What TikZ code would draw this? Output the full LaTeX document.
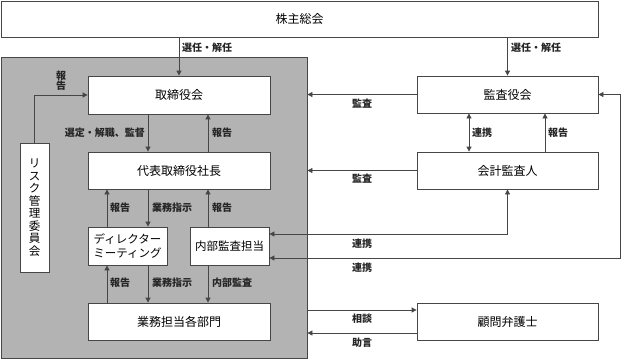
\documentclass[tikz,border=0pt]{standalone}
\usepackage{fontspec}
\setmainfont{Noto Sans CJK JP}
\usetikzlibrary{arrows.meta}
\definecolor{grayfill}{RGB}{179,179,179}
\definecolor{linec}{RGB}{70,70,70}
\tikzset{
  box/.style={draw=linec, line width=0.8pt, fill=white, inner sep=0pt, align=center, font=\fontsize{12}{14}\selectfont},
  arr/.style={draw=linec, line width=0.8pt, -{Triangle[length=5pt,width=5pt]}},
  darr/.style={draw=linec, line width=0.8pt, {Triangle[length=5pt,width=5pt]}-{Triangle[length=5pt,width=5pt]}},
  lbl/.style={inner sep=0pt, font=\fontsize{10}{10.5}\selectfont\bfseries, text=black!85}
}
\begin{document}
\begin{tikzpicture}[x=1pt,y=-1pt]
\useasboundingbox (0,0) rectangle (621,360);
% group
\node[draw=linec, line width=0.8pt, fill=grayfill, minimum width=306pt, minimum height=301pt, inner sep=0pt] (grp) at (154,207.5) {};
% boxes
\node[box, minimum width=597pt, minimum height=36pt] (soukai) at (299.5,19) {株主総会};
\node[box, minimum width=182pt, minimum height=38pt] (tori) at (179,95) {取締役会};
\node[box, minimum width=182pt, minimum height=37pt] (daihyo) at (179,170.5) {代表取締役社長};
\node[box, minimum width=79pt, minimum height=38pt, font=\fontsize{11.5}{14}\selectfont] (dir) at (127.5,246) {ディレクター\\ミーティング};
\node[box, minimum width=79pt, minimum height=38pt, font=\fontsize{11.5}{14}\selectfont] (naibu) at (229.5,246) {内部監査担当};
\node[box, minimum width=182pt, minimum height=37pt] (gyomu) at (179,321.5) {業務担当各部門};
\node[box, minimum width=29pt, minimum height=129pt, font=\fontsize{11.5}{12.5}\selectfont] (risk) at (34.5,207.5) {リ\\ス\\ク\\管\\理\\委\\員\\会};
\node[box, minimum width=181pt, minimum height=37pt] (kansa) at (507.5,94.5) {監査役会};
\node[box, minimum width=181pt, minimum height=37pt] (kaikei) at (507.5,170.5) {会計監査人};
\node[box, minimum width=181pt, minimum height=37pt] (bengo) at (507.5,321.5) {顧問弁護士};
\coordinate (rc) at (620,258);
% arrows
\draw[arr] (soukai.south -| tori.north) -- (tori.north);
\draw[arr] (soukai.south -| kansa.north) -- (kansa.north);
\draw[arr] (risk.north) |- (tori.west);
\draw[arr] (tori.south -| 148,0) -- (daihyo.north -| 148,0);
\draw[arr] (daihyo.north -| 208,0) -- (tori.south -| 208,0);
\draw[arr] (dir.north -| 107,0) -- (daihyo.south -| 107,0);
\draw[arr] (daihyo.south -| 148,0) -- (dir.north -| 148,0);
\draw[arr] (naibu.north -| 208,0) -- (daihyo.south -| 208,0);
\draw[arr] (gyomu.north -| 107,0) -- (dir.south -| 107,0);
\draw[arr] (dir.south -| 148,0) -- (gyomu.north -| 148,0);
\draw[arr] (naibu.south -| 208,0) -- (gyomu.north -| 208,0);
\draw[arr] (kansa.west) -- (grp.east |- kansa.west);
\draw[arr] (kaikei.west) -- (grp.east |- kaikei.west);
\draw[darr] (kansa.south -| 469,0) -- (kaikei.north -| 469,0);
\draw[arr] (kaikei.north -| 545,0) -- (kansa.south -| 545,0);
\draw[darr] (naibu.east |- 0,234) -| (kaikei.south);
\draw[darr] (naibu.east |- rc) -- (rc) |- (kansa.east);
\draw[arr] (grp.east |- 0,310) -- (bengo.west |- 0,310);
\draw[arr] (bengo.west |- 0,333) -- (grp.east |- 0,333);
% labels
\node[lbl, anchor=west] (l1) at (182,48) {選任・解任};
\node[lbl, anchor=west] (l2) at (511,48) {選任・解任};
\node[lbl, align=center] (l3) at (61,80.5) {報\\告};
\node[lbl, anchor=east] (l4) at (145,133) {選定・解職、監督};
\node[lbl, anchor=west] (l5) at (212,133) {報告};
\node[lbl, anchor=west] (l6) at (110,208) {報告};
\node[lbl, anchor=west] (l7) at (152,208) {業務指示};
\node[lbl, anchor=west] (l8) at (212,208) {報告};
\node[lbl, anchor=west] (l9) at (110,283) {報告};
\node[lbl, anchor=west] (l10) at (152,283) {業務指示};
\node[lbl, anchor=west] (l11) at (212,283) {内部監査};
\node[lbl] (l12) at (362,104) {監査};
\node[lbl] (l13) at (362,179) {監査};
\node[lbl, anchor=west] (l14) at (472,133) {連携};
\node[lbl, anchor=west] (l15) at (548,133) {報告};
\node[lbl] (l16) at (362,244) {連携};
\node[lbl] (l17) at (362,268) {連携};
\node[lbl] (l18) at (362,319) {相談};
\node[lbl] (l19) at (362,343) {助言};
\end{tikzpicture}
\end{document}
